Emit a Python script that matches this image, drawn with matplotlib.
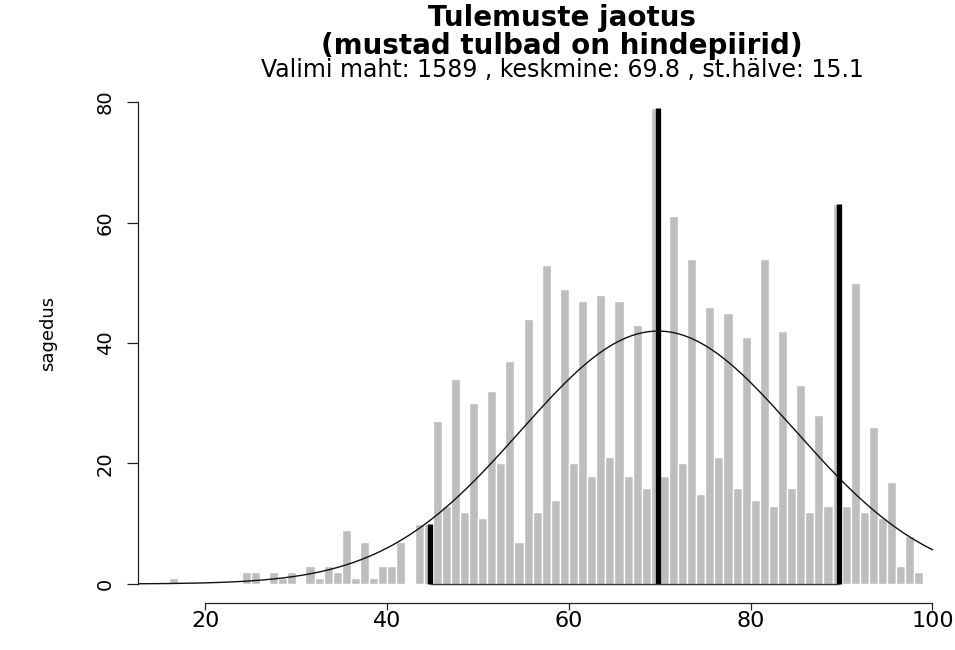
import numpy as np
import matplotlib
matplotlib.use("Agg")
import matplotlib.pyplot as plt

# score -> number of students (R-style bins (s-1, s])
scores = [17, 25, 26, 28, 29, 30, 32, 33, 34, 35, 36, 37, 38, 39, 40, 41, 42,
          44, 45, 46, 47, 48, 49, 50, 51, 52, 53, 54, 55, 56, 57, 58, 59, 60,
          61, 62, 63, 64, 65, 66, 67, 68, 69, 70, 71, 72, 73, 74, 75, 76, 77,
          78, 79, 80, 81, 82, 83, 84, 85, 86, 87, 88, 89, 90, 91, 92, 93, 94,
          95, 96, 97, 98, 99]
counts = [1, 2, 2, 2, 1, 2, 3, 1, 3, 2, 9, 1, 7, 1, 3, 3, 7,
          10, 10, 27, 13, 34, 12, 30, 11, 32, 20, 37, 7, 44, 12, 53, 14, 49,
          20, 47, 18, 48, 21, 47, 18, 43, 16, 79, 18, 61, 20, 54, 15, 46, 21,
          45, 16, 41, 14, 54, 13, 42, 16, 33, 12, 28, 13, 63, 13, 50, 12, 26,
          11, 17, 3, 8, 2]

grade_limits = [45, 70, 90]

n_total = 1589
mean_score = 69.8
sd_score = 15.1

x_ticks = [20, 40, 60, 80, 100]
y_ticks = [0, 20, 40, 60, 80]

title_1 = "Tulemuste jaotus"
title_2 = "(mustad tulbad on hindepiirid)"
subtitle = f"Valimi maht: {n_total} , keskmine: {mean_score} , st.hälve: {sd_score}"
y_label = "sagedus"

W, H = 955, 650
XLIM = (12.6, 102.4)
YLIM = (-3.16, 82.16)

plt.rcParams["font.family"] = ["DejaVu Sans"]

fig = plt.figure(figsize=(W / 100, H / 100), dpi=100)
ax = fig.add_axes([138.25 / W, (H - 603) / H, (954.3 - 138.25) / W, (603 - 89) / H])

s = np.array(scores)
c = np.array(counts)
ax.bar(s - 1, c, width=1.0, align="edge", color="#bebebe",
       edgecolor="white", linewidth=1.0, zorder=2)

# normal curve scaled to counts (bin width 1)
xs = np.linspace(XLIM[0], 100, 400)
dens = n_total / (sd_score * np.sqrt(2 * np.pi)) * np.exp(-0.5 * ((xs - mean_score) / sd_score) ** 2)
ax.plot(xs, dens, color="#111111", linewidth=1.0, zorder=4)

# grade limits as black bars
lim_heights = [counts[scores.index(g)] for g in grade_limits]
ax.vlines(np.array(grade_limits) - 0.25, 0, lim_heights, color="black",
          linewidth=3.8, zorder=3, capstyle="butt")
ax.hlines(0, grade_limits[0] - 0.25, grade_limits[-1] - 0.25, color="#333333",
          linewidth=1.0, zorder=3)

ax.set_xlim(*XLIM)
ax.set_ylim(*YLIM)
for side in ["top", "right"]:
    ax.spines[side].set_visible(False)
ax.spines["left"].set_bounds(y_ticks[0], y_ticks[-1])
ax.spines["bottom"].set_bounds(x_ticks[0], x_ticks[-1])
for side in ["left", "bottom"]:
    ax.spines[side].set_linewidth(0.9)
    ax.spines[side].set_color("#222222")

ax.set_xticks(x_ticks)
ax.set_yticks(y_ticks)
ax.tick_params(axis="x", direction="out", length=5, width=0.9, pad=1,
               labelsize=16, color="#222222")
ax.tick_params(axis="y", direction="out", length=8, width=0.9, pad=9,
               labelsize=14, color="#222222")
for lbl in ax.get_yticklabels():
    lbl.set_rotation(90)
    lbl.set_va("center")

fig.text(562 / W, 1 - 18 / H, title_1, ha="center", va="center",
         fontsize=20, fontweight="bold")
fig.text(562 / W, 1 - 46 / H, title_2, ha="center", va="center",
         fontsize=20, fontweight="bold")
fig.text(562 / W, 1 - 70 / H, subtitle, ha="center", va="center", fontsize=17)
fig.text(48 / W, 1 - 333 / H, y_label, ha="center", va="center",
         rotation=90, fontsize=13)

fig.savefig("out.png", dpi=100)
